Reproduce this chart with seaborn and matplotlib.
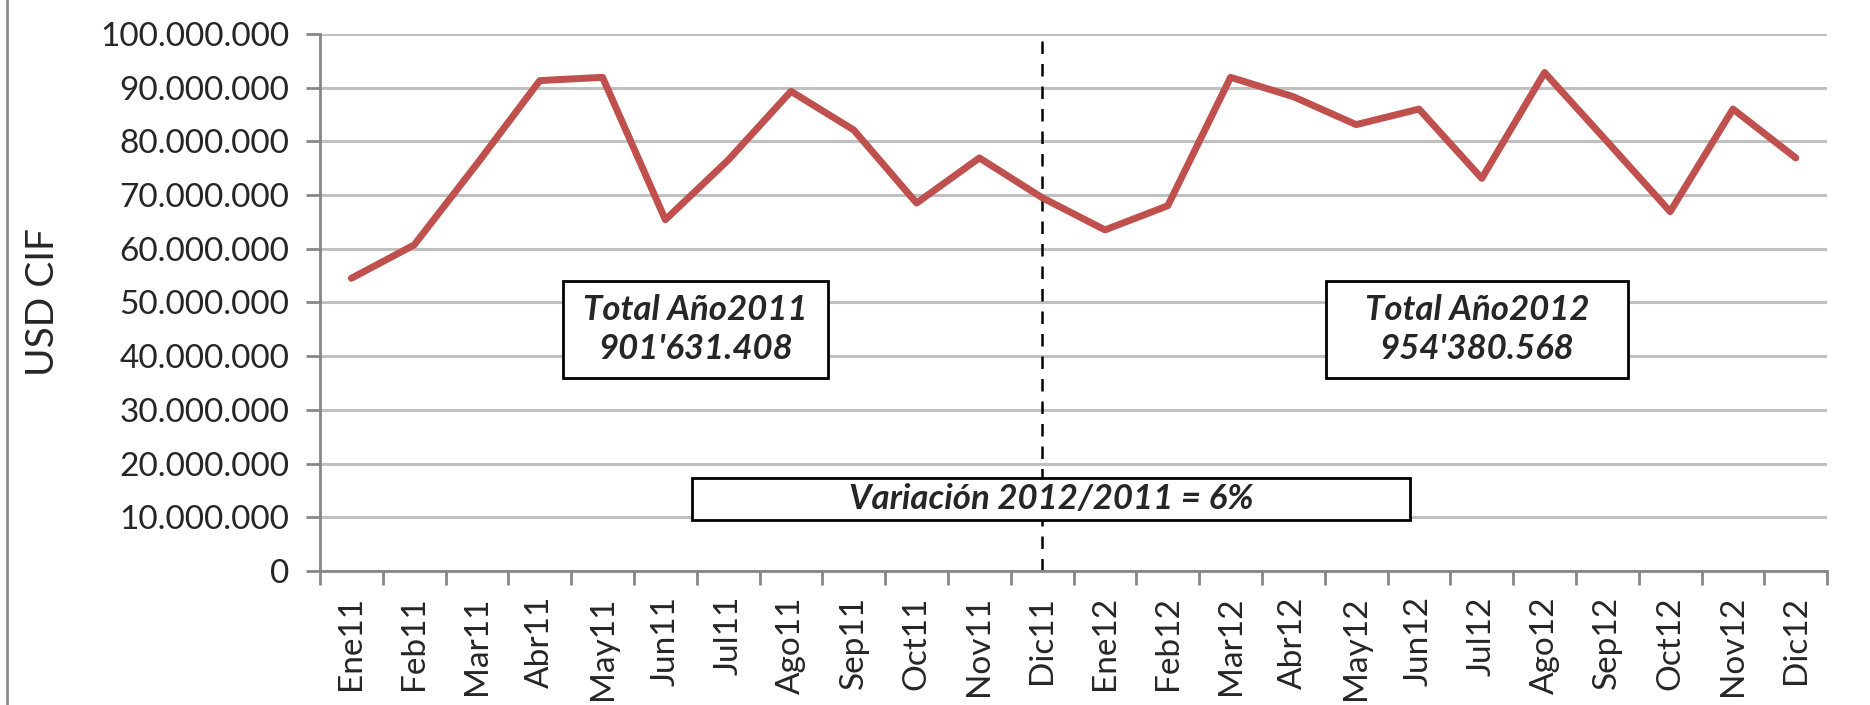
import matplotlib
matplotlib.use("Agg")
import matplotlib.pyplot as plt
import matplotlib.ticker as mticker
from matplotlib.patches import Rectangle
from matplotlib.lines import Line2D
import seaborn as sns
import pandas as pd

# datos (USD CIF por mes)
meses = ["Ene11", "Feb11", "Mar11", "Abr11", "May11", "Jun11", "Jul11", "Ago11",
         "Sep11", "Oct11", "Nov11", "Dic11", "Ene12", "Feb12", "Mar12", "Abr12",
         "May12", "Jun12", "Jul12", "Ago12", "Sep12", "Oct12", "Nov12", "Dic12"]
valores_2011 = [54.5e6, 60.7e6, 75.8e6, 91.3e6, 91.9e6, 65.4e6, 76.5e6, 89.3e6,
                82.1e6, 68.5e6, 76.9e6, 69.5e6]
valores_2012 = [63.5e6, 68.0e6, 91.9e6, 88.3e6, 83.1e6, 86.0e6, 73.1e6, 92.8e6,
                79.9e6, 66.9e6, 86.0e6, 76.9e6]
texto_2011 = "Total Año2011\n901'631.408"
texto_2012 = "Total Año2012\n954'380.568"
texto_var = "Variación 2012/2011 = 6%"
mes_corte = "Dic11"

df = pd.DataFrame({"mes": meses, "usd": valores_2011 + valores_2012})

sns.set_style("white")
plt.rcParams["font.family"] = ["Lato", "DejaVu Sans"]

fig = plt.figure(figsize=(18.7, 7.05), dpi=100)
ax = fig.add_axes([0.1711, 0.190, 0.806, 0.762])

gris = "#868686"
for v in range(0, 100000001, 10000000):
    ax.axhline(v, color="#c0c0c0", lw=2.2, zorder=0)

sns.lineplot(data=df, x="mes", y="usd", sort=False, color="#C0504D", lw=5,
             ax=ax, zorder=3)

ax.set_xlim(-0.5, len(meses) - 0.5)
ax.set_ylim(0, 100000000)
ax.set_yticks(range(0, 100000001, 10000000))
ax.yaxis.set_major_formatter(
    mticker.FuncFormatter(lambda v, p: f"{v:,.0f}".replace(",", ".")))
ax.set_xticks(range(len(meses)))
ax.set_xticklabels(meses, rotation=90, fontsize=24)
ax.set_xticks([i - 0.5 for i in range(len(meses) + 1)], minor=True)
ax.tick_params(axis="x", which="major", length=0, pad=18)
ax.tick_params(axis="x", which="minor", length=10, width=2, color=gris, bottom=True)
ax.tick_params(axis="y", length=10, width=2, color=gris, left=True, labelsize=24, pad=12)

for s in ["top", "right"]:
    ax.spines[s].set_visible(False)
for s in ["left", "bottom"]:
    ax.spines[s].set_color(gris)
    ax.spines[s].set_linewidth(2)

ax.set_xlabel("")
ax.set_ylabel("USD CIF", fontsize=28)
ax.yaxis.set_label_coords(-0.172, 0.5)

# linea de corte entre años
ax.axvline(meses.index(mes_corte), color="black", lw=1.8, ls=(0, (5, 4)), zorder=2)

# cuadros de texto
cuadros = [(3.37, 7.59, 35.9e6, 54.0e6, texto_2011),
           (15.52, 20.33, 35.9e6, 54.0e6, texto_2012),
           (5.42, 16.86, 9.5e6, 17.3e6, texto_var)]
for x0, x1, y0, y1, txt in cuadros:
    ax.add_patch(Rectangle((x0, y0), x1 - x0, y1 - y0, facecolor="white",
                           edgecolor="black", lw=2, zorder=4))
    ax.text((x0 + x1) / 2, (y0 + y1) / 2, txt, ha="center", va="center",
            fontsize=25, fontweight="bold", fontstyle="italic",
            linespacing=1.3, zorder=5)

# borde izquierdo del grafico
fig.add_artist(Line2D([0.0035, 0.0035], [0, 1], color="#8c8c8c", lw=2,
                      transform=fig.transFigure))

fig.savefig("out.png", dpi=100)
